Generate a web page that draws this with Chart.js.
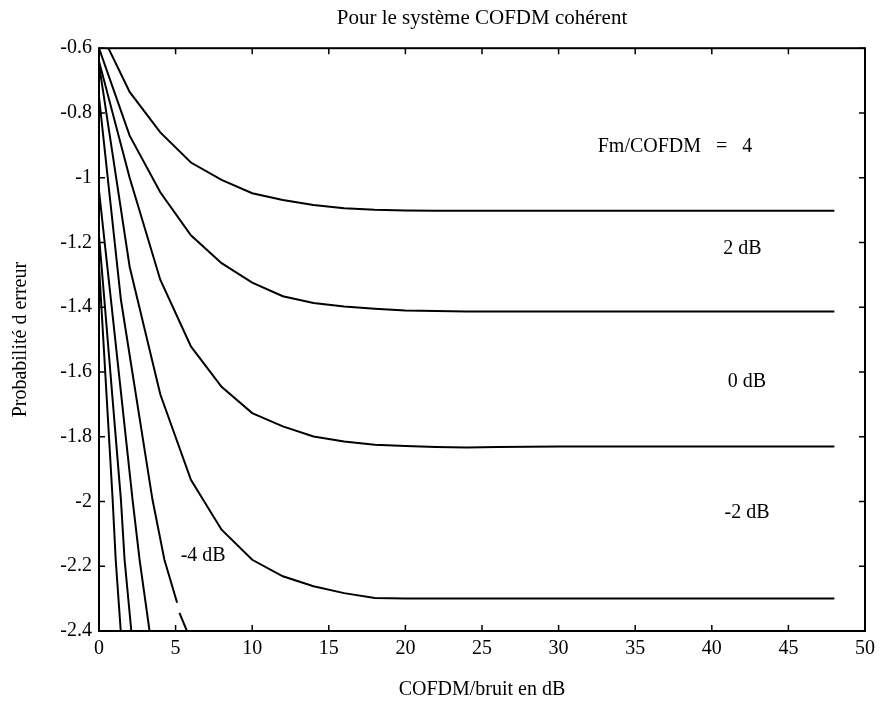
<!DOCTYPE html>
<html>
<head>
<meta charset="utf-8">
<script src="https://cdn.jsdelivr.net/npm/chart.js@4"></script>
<style>
  html, body { margin: 0; padding: 0; background: #fff; }
  #wrap { width: 881px; height: 708px; }
</style>
</head>
<body>
<div id="wrap"><canvas id="c" width="881" height="708"></canvas></div>
<script>
// x positions (dB) of the plateau curves
const snrGrid = [0, 2, 4, 6, 8, 10, 12, 14, 16, 18, 20, 22, 24, 26, 28, 30, 32, 34, 36, 38, 40, 42, 44, 46, 48];

// log10 error probability, one array per curve
const curve4dB = [-0.54, -0.735, -0.86, -0.953, -1.007, -1.048, -1.069, -1.084, -1.094, -1.099, -1.101, -1.102, -1.102,
                  -1.102, -1.102, -1.102, -1.102, -1.102, -1.102, -1.102, -1.102, -1.102, -1.102, -1.102, -1.102];
const curve2dB = [-0.6, -0.87, -1.045, -1.178, -1.264, -1.324, -1.366, -1.387, -1.398, -1.405, -1.41, -1.412, -1.413,
                  -1.413, -1.413, -1.413, -1.413, -1.413, -1.413, -1.413, -1.413, -1.413, -1.413, -1.413, -1.413];
const curve0dB = [-0.64, -1.0, -1.315, -1.521, -1.646, -1.727, -1.768, -1.799, -1.815, -1.825, -1.829, -1.832, -1.833,
                  -1.832, -1.831, -1.83, -1.83, -1.83, -1.83, -1.83, -1.83, -1.83, -1.83, -1.83, -1.83];
const curveM2dB = [-0.65, -1.275, -1.669, -1.933, -2.087, -2.18, -2.231, -2.262, -2.283, -2.298, -2.3, -2.3, -2.3,
                   -2.3, -2.3, -2.3, -2.3, -2.3, -2.3, -2.3, -2.3, -2.3, -2.3, -2.3, -2.3];

// -4 dB curve, broken where its label sits
const curveM4x = [0, 1.43, 3.49, 4.27, 5.1, 5.17, 5.25, 5.74];
const curveM4y = [-0.75, -1.377, -1.994, -2.18, -2.313, null, -2.344, -2.4];
// steeper curves close to the y axis
const steepCx = [0, 0.78, 2.19, 2.65, 3.3];
const steepCy = [-1.04, -1.377, -1.994, -2.18, -2.4];
const steepBx = [0, 0.35, 1.43, 1.67, 2.11];
const steepBy = [-1.18, -1.377, -1.994, -2.18, -2.4];
const steepAx = [0, 0.13, 0.89, 1.09, 1.42];
const steepAy = [-1.27, -1.377, -1.994, -2.18, -2.4];

const xTicks = [0, 5, 10, 15, 20, 25, 30, 35, 40, 45, 50];
const yTicks = [-2.4, -2.2, -2, -1.8, -1.6, -1.4, -1.2, -1, -0.8, -0.6];

// text labels inside the plot, in data units
const noteText = ['Fm/COFDM   =   4', '2 dB', '0 dB', '-2 dB', '-4 dB'];
const noteX = [37.6, 42.0, 42.3, 42.3, 6.8];
const noteY = [-0.905, -1.22, -1.63, -2.035, -2.168];

const FONT = '"Liberation Serif", "DejaVu Serif", serif';

function pts(xs, ys) {
    return xs.map((x, i) => ({ x: x, y: ys[i] }));
}

function line(data) {
    return {
        data: data,
        showLine: true,
        borderColor: '#000',
        borderWidth: 2,
        pointRadius: 0,
        tension: 0,
        spanGaps: false
    };
}

const frame = {
    id: 'frame',
    afterDraw(chart) {
        const ctx = chart.ctx;
        const a = chart.chartArea;
        const xs = chart.scales.x;
        const ys = chart.scales.y;
        ctx.save();
        ctx.strokeStyle = '#000';
        ctx.lineWidth = 2;
        ctx.strokeRect(a.left, a.top, a.right - a.left, a.bottom - a.top);
        ctx.lineWidth = 1.5;
        ctx.beginPath();
        xTicks.forEach(v => {
            const px = xs.getPixelForValue(v);
            ctx.moveTo(px, a.bottom); ctx.lineTo(px, a.bottom - 6);
            ctx.moveTo(px, a.top); ctx.lineTo(px, a.top + 6);
        });
        yTicks.forEach(v => {
            const py = ys.getPixelForValue(v);
            ctx.moveTo(a.left, py); ctx.lineTo(a.left + 6, py);
            ctx.moveTo(a.right, py); ctx.lineTo(a.right - 6, py);
        });
        ctx.stroke();

        ctx.fillStyle = '#000';
        ctx.font = '20px ' + FONT;
        ctx.textAlign = 'center';
        ctx.textBaseline = 'middle';
        noteText.forEach((t, i) => {
            ctx.fillText(t, xs.getPixelForValue(noteX[i]), ys.getPixelForValue(noteY[i]));
        });
        ctx.restore();
    }
};

new Chart(document.getElementById('c'), {
    type: 'scatter',
    data: {
        datasets: [
            line(pts(snrGrid, curve4dB)),
            line(pts(snrGrid, curve2dB)),
            line(pts(snrGrid, curve0dB)),
            line(pts(snrGrid, curveM2dB)),
            line(pts(curveM4x, curveM4y)),
            line(pts(steepCx, steepCy)),
            line(pts(steepBx, steepBy)),
            line(pts(steepAx, steepAy))
        ]
    },
    plugins: [frame],
    options: {
        responsive: false,
        animation: false,
        devicePixelRatio: 1,
        layout: { padding: { left: 0, right: 13, top: 0, bottom: 0 } },
        plugins: {
            legend: { display: false },
            tooltip: { enabled: false },
            title: {
                display: true,
                fullSize: false,
                text: 'Pour le système COFDM cohérent',
                color: '#000',
                font: { family: FONT, size: 21, weight: 'normal' },
                padding: { top: 6, bottom: 17 }
            }
        },
        scales: {
            x: {
                type: 'linear',
                min: 0,
                max: 50,
                afterFit: s => { s.height = 77; },
                afterBuildTicks: s => { s.ticks = xTicks.map(v => ({ value: v })); },
                grid: { display: false, drawTicks: false, tickLength: 0 },
                border: { display: false },
                ticks: { color: '#000', font: { family: FONT, size: 20 }, padding: 6 },
                title: {
                    display: true,
                    text: 'COFDM/bruit en dB',
                    color: '#000',
                    font: { family: FONT, size: 20 },
                    padding: { top: 0, bottom: 6 }
                }
            },
            y: {
                type: 'linear',
                min: -2.4,
                max: -0.6,
                afterFit: s => { s.width = 99; },
                afterBuildTicks: s => { s.ticks = yTicks.map(v => ({ value: v })); },
                grid: { display: false, drawTicks: false, tickLength: 0 },
                border: { display: false },
                ticks: {
                    color: '#000',
                    font: { family: FONT, size: 20 },
                    padding: 7,
                    callback: v => String(Math.round(v * 10) / 10)
                },
                title: {
                    display: true,
                    text: 'Probabilité d erreur',
                    color: '#000',
                    font: { family: FONT, size: 20 },
                    padding: { top: 9, bottom: 0 }
                }
            }
        }
    }
});
</script>
</body>
</html>
